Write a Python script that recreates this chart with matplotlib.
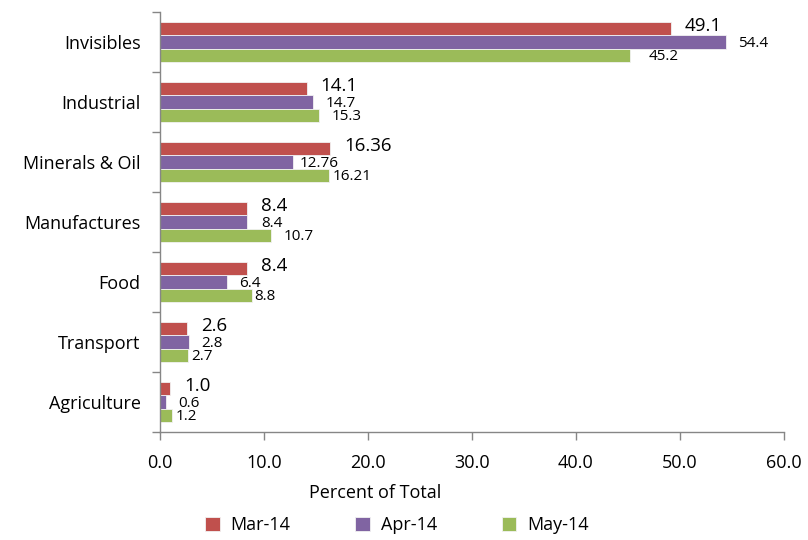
import matplotlib
matplotlib.use("Agg")
import matplotlib.pyplot as plt
import numpy as np

plt.rcParams['font.family'] = ['Open Sans', 'DejaVu Sans']

categories = ["Invisibles", "Industrial", "Minerals & Oil", "Manufactures",
              "Food", "Transport", "Agriculture"]
series_names = ["Mar-14", "Apr-14", "May-14"]
mar14 = [49.1, 14.1, 16.36, 8.4, 8.4, 2.6, 1.0]
apr14 = [54.4, 14.7, 12.76, 8.4, 6.4, 2.8, 0.6]
may14 = [45.2, 15.3, 16.21, 10.7, 8.8, 2.7, 1.2]
label_text = {
    "Mar-14": ["49.1", "14.1", "16.36", "8.4", "8.4", "2.6", "1.0"],
    "Apr-14": ["54.4", "14.7", "12.76", "8.4", "6.4", "2.8", "0.6"],
    "May-14": ["45.2", "15.3", "16.21", "10.7", "8.8", "2.7", "1.2"],
}
x_ticks = [0, 10, 20, 30, 40, 50, 60]

colors = ["#C0504D", "#8064A2", "#9BBB59"]
label_sizes = [13.5, 11, 11]
# horizontal offset (points) of each value label from its bar end
label_dx = {
    "Mar-14": [10, 10, 10, 10, 10, 10, 10],
    "Apr-14": [9, 9, 5, 10, 9, 9, 9],
    "May-14": [13, 9, 3, 9, 2, 2, 2],
}
label_dy = [1.5, -1, -1]

fig = plt.figure(figsize=(8.08, 5.4), dpi=100)
ax = fig.add_axes([160 / 808, 1 - 432 / 540, 624 / 808, 420 / 540])

n = len(categories)
centers = np.arange(n)[::-1].astype(float)  # first category at top
h = 0.225
values = [mar14, apr14, may14]
for i, (name, vals, col) in enumerate(zip(series_names, values, colors)):
    y = centers + h * (1 - i)
    ax.barh(y, vals, height=h, color=col, edgecolor="#f2f2f2",
            linewidth=0.6, label=name)
    for yy, v, txt, dx in zip(y, vals, label_text[name], label_dx[name]):
        ax.annotate(txt, (v, yy), xytext=(dx, label_dy[i]),
                    textcoords="offset points", ha="left", va="center",
                    fontsize=label_sizes[i], color="#000000")

ax.set_xlim(0, 60)
ax.set_ylim(-0.5, n - 0.5)
ax.set_xticks(x_ticks)
ax.set_xticklabels([f"{t:.1f}" for t in x_ticks], fontsize=13)
ax.set_yticks(centers)
ax.set_yticklabels(categories, fontsize=13)
ax.set_yticks(np.arange(n + 1) - 0.5, minor=True)

ax.tick_params(axis="y", which="major", length=0, pad=14)
ax.tick_params(axis="y", which="minor", length=6, color="#868686", width=1)
ax.tick_params(axis="x", which="major", length=6, color="#868686", width=1,
               pad=10)

for s in ["top", "right"]:
    ax.spines[s].set_visible(False)
for s in ["left", "bottom"]:
    ax.spines[s].set_color("#868686")
    ax.spines[s].set_linewidth(1)

fig.text(375 / 808, 1 - 493 / 540, "Percent of Total", ha="center",
         va="center", fontsize=13)

fig.legend(loc="center", bbox_to_anchor=(397 / 808, 1 - 525 / 540), ncol=3,
           frameon=False, fontsize=13, handlelength=0.8, handleheight=0.8,
           columnspacing=3.6, handletextpad=0.6)

fig.savefig("out.png", dpi=100)
